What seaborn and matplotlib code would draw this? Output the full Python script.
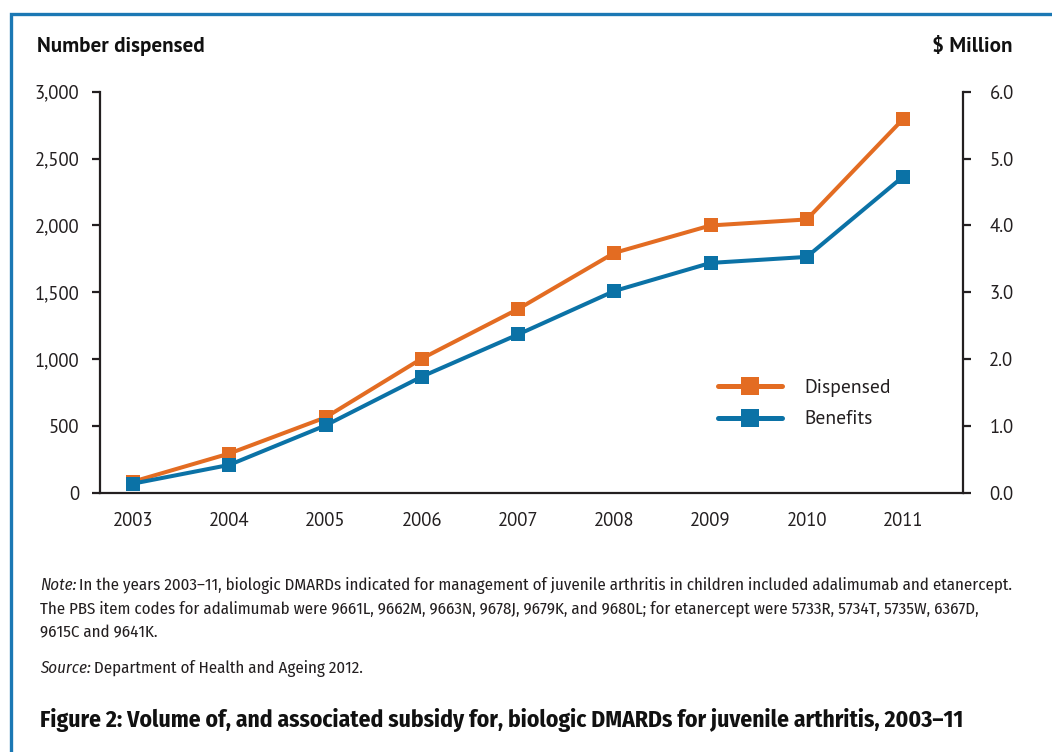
import matplotlib
matplotlib.use("Agg")
import matplotlib.pyplot as plt
import seaborn as sns
import pandas as pd
from matplotlib import font_manager as fm
from matplotlib.lines import Line2D
from matplotlib.patches import Rectangle

# ---- data ----
years = [2003, 2004, 2005, 2006, 2007, 2008, 2009, 2010, 2011]
dispensed = [85, 295, 565, 1005, 1375, 1795, 2000, 2045, 2795]
benefits = [0.14, 0.42, 1.01, 1.74, 2.37, 3.02, 3.44, 3.53, 4.73]
left_ticks = [0, 500, 1000, 1500, 2000, 2500, 3000]
right_ticks = [0.0, 1.0, 2.0, 3.0, 4.0, 5.0, 6.0]
series_labels = ["Dispensed", "Benefits"]
note_line1 = "In the years 2003\u201311, biologic DMARDs indicated for management of juvenile arthritis in children included adalimumab and etanercept."
note_line2 = "The PBS item codes for adalimumab were 9661L, 9662M, 9663N, 9678J, 9679K, and 9680L; for etanercept were 5733R, 5734T, 5735W, 6367D,"
note_line3 = "9615C and 9641K."
source_text = "Department of Health and Ageing 2012."
title_text = "Figure 2: Volume of, and associated subsidy for, biologic DMARDs for juvenile arthritis, 2003\u201311"

ORANGE = "#e36c22"
BLUE = "#0b72a6"
FRAME = "#1b78b4"
INK = "#231f20"

names = {f.name for f in fm.fontManager.ttflist}

def pick(cands, default="DejaVu Sans"):
    for c in cands:
        if c in names:
            return c
    return default

main_font = pick(["PT Sans", "Fira Sans", "Open Sans"])
narrow_font = pick(["Fira Sans Condensed", "PT Sans Narrow", "Asap Condensed",
                    "Roboto Condensed", "Archivo Narrow", "Liberation Sans"])

sns.set_style("white")
plt.rcParams["font.family"] = [main_font, "DejaVu Sans"]

W, H = 1052, 752
fig = plt.figure(figsize=(W / 100, H / 100), dpi=100)
r = fig.canvas.get_renderer()

def fx(px):
    return px / W

def fy(py):
    return 1 - py / H

def fit(t, target):
    for _ in range(3):
        w = t.get_window_extent(r).width
        t.set_fontsize(t.get_fontsize() * target / w)

ax = fig.add_axes([fx(100), fy(493), fx(963) - fx(100), fy(91.7) - fy(493)])
ax2 = ax.twinx()

df = pd.DataFrame({"year": years, "dispensed": dispensed, "benefits": benefits})
sns.lineplot(data=df, x="year", y="dispensed", ax=ax, color=ORANGE, marker="s",
             markersize=9.5, markeredgewidth=0, linewidth=2.9)
sns.lineplot(data=df, x="year", y="benefits", ax=ax2, color=BLUE, marker="s",
             markersize=9.5, markeredgewidth=0, linewidth=2.9)

ax.set_xlim(2002.657, 2011.623)
ax.set_ylim(0, 3000)
ax2.set_ylim(0, 6.0)
ax.set_xticks(years)
ax.set_xticklabels([str(y) for y in years])
ax.set_yticks(left_ticks)
ax.set_yticklabels([f"{v:,}" for v in left_ticks])
ax2.set_yticks(right_ticks)
ax2.set_yticklabels([f"{v:.1f}" for v in right_ticks])
for a in (ax, ax2):
    a.set_xlabel("")
    a.set_ylabel("")
    a.spines["top"].set_visible(False)
    for s in a.spines.values():
        s.set_color(INK)
        s.set_linewidth(1.6)
ax.spines["right"].set_visible(False)
ax2.spines["left"].set_visible(False)
ax2.spines["bottom"].set_visible(False)

ax.tick_params(axis="y", direction="out", length=6, width=1.6, pad=9, labelsize=13.5,
               colors=INK, left=True)
ax.tick_params(axis="x", length=0, pad=14, labelsize=13.5, colors=INK)
ax2.tick_params(axis="y", direction="out", length=6, width=1.6, pad=13, labelsize=13.5,
                colors=INK, right=True)

# legend
handles = [Line2D([], [], color=ORANGE, lw=3.6, marker="s", markersize=12.5, markeredgewidth=0),
           Line2D([], [], color=BLUE, lw=3.6, marker="s", markersize=12.5, markeredgewidth=0)]
leg = ax2.legend(handles, series_labels, loc="center left",
                 bbox_to_anchor=(fx(718), fy(403.5)), bbox_transform=fig.transFigure,
                 frameon=False, fontsize=14, handlelength=3.3, handletextpad=1.15,
                 labelspacing=0.7, borderpad=0, borderaxespad=0)
for t in leg.get_texts():
    t.set_color(INK)

# axis titles
t1 = fig.text(fx(37), fy(52), "Number dispensed", fontsize=13, fontweight="bold",
              va="baseline", ha="left", color="#111111")
fit(t1, 168)
t2 = fig.text(fx(1012), fy(52), "$ Million", fontsize=13, fontweight="bold",
              va="baseline", ha="right", color="#111111")
t2.set_fontsize(t1.get_fontsize())

# notes
nfam = [narrow_font, "DejaVu Sans"]
ref = fig.text(fx(40), fy(613.5), note_line2, family=nfam, fontsize=12,
               va="baseline", color=INK)
fit(ref, 979 - 40)
nfs = ref.get_fontsize()
note_lbl = fig.text(fx(40), fy(590), "Note:", family=nfam, style="italic",
                    fontsize=nfs, va="baseline", color=INK)
bb = note_lbl.get_window_extent(r)
fig.text((bb.x1 + 3) / W, fy(590), note_line1, family=nfam, fontsize=nfs,
         va="baseline", color=INK)
fig.text(fx(40), fy(637), note_line3, family=nfam, fontsize=nfs, va="baseline", color=INK)
src_lbl = fig.text(fx(40), fy(673), "Source:", family=nfam, style="italic",
                   fontsize=nfs, va="baseline", color=INK)
bb2 = src_lbl.get_window_extent(r)
fig.text((bb2.x1 + 3) / W, fy(673), source_text, family=nfam, fontsize=nfs,
         va="baseline", color=INK)
tt = fig.text(fx(40), fy(727), title_text, family=nfam, fontsize=18, fontweight="bold",
              va="baseline", color="#111111")
fit(tt, 963 - 40)

# frame
fig.add_artist(Rectangle((fx(11), -0.1), 1.2, fy(14) + 0.1, transform=fig.transFigure,
                         fill=False, edgecolor=FRAME, linewidth=2.4, clip_on=False))

fig.savefig("out.png", dpi=100)
